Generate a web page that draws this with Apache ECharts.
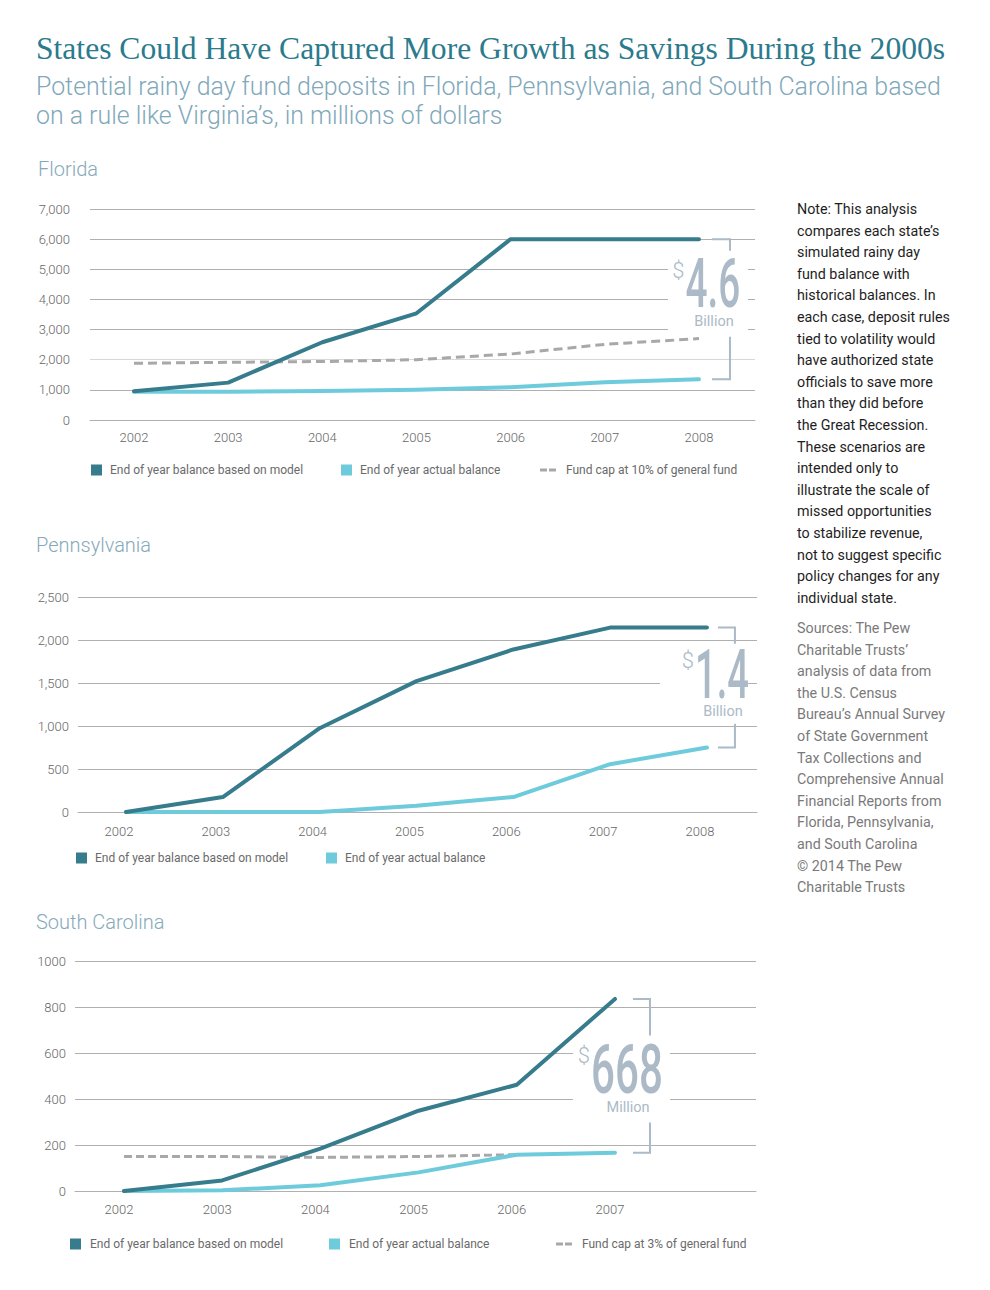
<!DOCTYPE html>
<html><head><meta charset="utf-8">
<script src="https://cdn.jsdelivr.net/npm/echarts@6/dist/echarts.min.js"></script>
<style>html,body{margin:0;padding:0;background:#fff}#c{width:990px;height:1290px}</style>
</head><body><div id="c"></div>
<script>
// ---------- data ----------
const years = [2002, 2003, 2004, 2005, 2006, 2007, 2008];
const scYears = [2002, 2003, 2004, 2005, 2006, 2007];

const flModel  = [950, 1240, 2580, 3540, 6000, 6000, 6000];
const flActual = [940, 940, 960, 1000, 1085, 1250, 1350];
const flCap    = [1880, 1915, 1940, 2000, 2190, 2510, 2700];

const paModel  = [0, 174, 974, 1522, 1890, 2144, 2144];
const paActual = [0, 0, 0, 73, 174, 556, 750];

const scModel  = [0, 46, 184, 349, 462, 835];
const scActual = [0, 3, 25, 81, 158, 166];
const scCap    = [150, 150, 146, 150, 158, null];

const flYAxis = [0, 7000, 1000];   // min, max, step
const paYAxis = [0, 2500, 500];
const scYAxis = [0, 1000, 200];

const nameModel = 'End of year balance based on model';
const nameActual = 'End of year actual balance';
const nameCap10 = 'Fund cap at 10% of general fund';
const nameCap3 = 'Fund cap at 3% of general fund';

const bigNumbers = ['4.6', '1.4', '668'];
const units = ['Billion', 'Billion', 'Million'];

const mainTitle = 'States Could Have Captured More Growth as Savings During the 2000s';
const subTitle = ['Potential rainy day fund deposits in Florida, Pennsylvania, and South Carolina based', 'on a rule like Virginia\u2019s, in millions of dollars'];
const stateNames = ['Florida', 'Pennsylvania', 'South Carolina'];
const noteLines = ['Note: This analysis', 'compares each state\u2019s', 'simulated rainy day', 'fund balance with', 'historical balances. In', 'each case, deposit rules', 'tied to volatility would', 'have authorized state', 'officials to save more', 'than they did before', 'the Great Recession.', 'These scenarios are', 'intended only to', 'illustrate the scale of', 'missed opportunities', 'to stabilize revenue,', 'not to suggest specific', 'policy changes for any', 'individual state.'];
const sourceLines = ['Sources: The Pew', 'Charitable Trusts\u2019', 'analysis of data from', 'the U.S. Census', 'Bureau\u2019s Annual Survey', 'of State Government', 'Tax Collections and', 'Comprehensive Annual', 'Financial Reports from', 'Florida, Pennsylvania,', 'and South Carolina', '\u00a9 2014 The Pew', 'Charitable Trusts'];

// ---------- styles ----------
const C_MODEL = '#367c8c', C_ACT = '#6dcbdc', C_CAP = '#a8a8aa', C_GRID = '#b0b0b0', C_GRID_L = '#d8d8d8', C_ANN = '#abbac6';
const C_AXT = '#666666';
const FONT = 'Roboto';

const mctx = document.createElement('canvas').getContext('2d');
function tw(text, font) { mctx.font = font; return mctx.measureText(text).width; }

const annCfg = [
  {bx: 31, hx: 13, tx: 14, dy: -15.5, gap: 86, boxL: 45, boxR: 18, scale: 0.57},
  {bx: 28, hx: 11, tx: 15, dy: -3.8, gap: 80, boxL: 62, boxR: 13, scale: 0.56},
  {bx: 35, hx: 18, tx: 12, dy: 3.2, gap: 87, boxL: 54, boxR: 20, scale: 0.62}
];

function makeAnnot(k) {
  const c = annCfg[k];
  return function (params, api) {
    const x = api.value(0);
    const pt = api.coord([x, api.value(1)]);
    const pb = api.coord([x, api.value(2)]);
    const bx = pt[0] + c.bx, hx = pt[0] + c.hx, tx = pt[0] + c.tx;
    const yt = pt[1], yb = pb[1];
    const gc = (yt + yb) / 2 + c.dy;
    const g0 = gc - c.gap / 2, g1 = gc + c.gap / 2;
    const numY = gc - 9;
    const half = tw(bigNumbers[k], '500 68px Roboto') * c.scale / 2;
    const capTop = numY - 0.711 * 68 / 2;
    const ts = (extra) => Object.assign({fontFamily: FONT, fill: C_ANN, align: 'center', verticalAlign: 'middle', textAlign: 'center', textVerticalAlign: 'middle'}, extra);
    return {
      type: 'group',
      children: [
        {type: 'rect', shape: {x: tx - c.boxL, y: g0, width: (bx + c.boxR) - (tx - c.boxL), height: g1 - g0}, style: {fill: '#ffffff'}},
        {type: 'polyline', shape: {points: [[hx, yt], [bx, yt], [bx, g0]]}, style: {stroke: C_ANN, lineWidth: 2, fill: 'none'}},
        {type: 'polyline', shape: {points: [[bx, g1], [bx, yb], [hx, yb]]}, style: {stroke: C_ANN, lineWidth: 2, fill: 'none'}},
        {type: 'text', x: tx, y: numY, scaleX: c.scale, style: ts({text: bigNumbers[k], fontSize: 68, fontWeight: 500})},
        {type: 'text', x: tx - half - 1, y: capTop + 9.5, style: ts({text: '$', fontSize: 22, fontWeight: 300, align: 'right', textAlign: 'right'})},
        {type: 'text', x: tx + 1, y: gc + 28, style: ts({text: units[k], fontSize: 14.5, fontWeight: 'normal'})}
      ]
    };
  };
}

function lineSeries(name, xs, ys, idx, color, z, dash) {
  return {
    type: 'line', name: name, xAxisIndex: idx, yAxisIndex: idx, z: z, silent: true,
    data: xs.map((x, i) => [x, ys[i]]),
    symbol: 'none', showSymbol: false, connectNulls: false,
    lineStyle: {color: color, width: dash ? 3 : 4, type: dash ? dash : 'solid', cap: dash ? 'butt' : 'round', join: 'round'},
    itemStyle: {color: color},
    emphasis: {disabled: true}
  };
}

function legendItem(name, left, top, dashed, pad) {
  return {
    show: true, selectedMode: false, left: left, top: top, padding: 0, itemGap: 0,
    itemWidth: dashed ? 16 : 11, itemHeight: dashed ? 3 : 11,
    itemStyle: {borderWidth: 0},
    data: [{name: name, icon: dashed ? 'path://M0,0H7V3H0Z M9,0H16V3H9Z' : 'rect'}],
    textStyle: {fontFamily: FONT, fontSize: 12, color: '#6a6a6a', padding: [0, 0, 0, pad]}
  };
}

function xAx(idx, min, max, vals, pad, margin) {
  return {
    gridIndex: idx, type: 'value', min: min, max: max,
    axisLine: {show: true, lineStyle: {color: C_GRID, width: 1}},
    axisTick: {show: false}, splitLine: {show: false},
    axisLabel: {customValues: vals, margin: margin, formatter: v => String(v), color: C_AXT, fontSize: 13, fontFamily: FONT, fontWeight: 300, padding: [0, pad, 0, 0]}
  };
}
function yAx(idx, r, margin, commas, gridColors) {
  return {
    gridIndex: idx, type: 'value', min: r[0], max: r[1], interval: r[2],
    axisLine: {show: false}, axisTick: {show: false},
    splitLine: {show: true, lineStyle: {color: gridColors || C_GRID, width: 1}},
    axisLabel: {margin: margin, color: C_AXT, fontSize: 13, fontFamily: FONT, fontWeight: 300,
      formatter: v => commas ? v.toLocaleString('en-US') : String(v)}
  };
}

const titleStyle = (size, lh, color, weight, family) => ({fontFamily: family || FONT, fontSize: size, lineHeight: lh, color: color, fontWeight: weight || 'normal'});

const option = {
  animation: false,
  backgroundColor: '#ffffff',
  title: [
    {text: mainTitle, left: 36, top: 31, padding: 0, textStyle: titleStyle(31.6, 34, '#2b7a8d', 'normal', 'Liberation Serif')},
    {text: subTitle.join('\n'), left: 36, top: 72, padding: 0, textStyle: titleStyle(24.9, 29, '#80a8ba', 300)},
    {text: stateNames[0], left: 38, top: 157, padding: 0, textStyle: titleStyle(20, 24, '#86a9ba', 300)},
    {text: stateNames[1], left: 36, top: 533, padding: 0, textStyle: titleStyle(20, 24, '#86a9ba', 300)},
    {text: stateNames[2], left: 36, top: 910, padding: 0, textStyle: titleStyle(20, 24, '#86a9ba', 300)},
    {text: noteLines.join('\n'), left: 797, top: 198.2, padding: 0, textStyle: titleStyle(14.3, 21.6, '#1e1e1e', 'normal')},
    {text: sourceLines.join('\n'), left: 797, top: 617.2, padding: 0, textStyle: titleStyle(14.3, 21.6, '#7a7a7a', 'normal')}
  ],
  legend: [
    legendItem(nameModel, 91, 464, false, 3),
    legendItem(nameActual, 341, 464, false, 3),
    legendItem(nameCap10, 540, 464, true, 5),
    legendItem(nameModel, 76, 852, false, 3),
    legendItem(nameActual, 326, 852, false, 3),
    legendItem(nameModel, 70, 1238, false, 4),
    legendItem(nameActual, 329, 1238, false, 4),
    legendItem(nameCap3, 556, 1238, true, 5)
  ],
  grid: [
    {left: 90, right: 235, top: 209, height: 211},
    {left: 78, right: 233, top: 597, height: 215},
    {left: 75, right: 234, top: 961, height: 230}
  ],
  xAxis: [
    xAx(0, 2001.533, 2008.595, years, 0, 11),
    xAx(1, 2001.504, 2008.517, years, 14, 13),
    xAx(2, 2001.501, 2008.436, scYears, 10, 12)
  ],
  yAxis: [
    yAx(0, flYAxis, 20, true, [C_GRID, C_GRID, C_GRID_L, C_GRID, C_GRID, C_GRID, C_GRID, C_GRID]),
    yAx(1, paYAxis, 9, true),
    yAx(2, scYAxis, 9, false)
  ],
  series: [
    lineSeries(nameCap10, years, flCap, 0, C_CAP, 2, [9, 5]),
    lineSeries(nameActual, years, flActual, 0, C_ACT, 3),
    lineSeries(nameModel, years, flModel, 0, C_MODEL, 4),
    {type: 'custom', xAxisIndex: 0, yAxisIndex: 0, z: 1, silent: true, encode: {x: 0, y: [1, 2]},
      data: [[years[years.length - 1], flModel[flModel.length - 1], flActual[flActual.length - 1]]], renderItem: makeAnnot(0)},

    lineSeries(nameActual, years, paActual, 1, C_ACT, 3),
    lineSeries(nameModel, years, paModel, 1, C_MODEL, 4),
    {type: 'custom', xAxisIndex: 1, yAxisIndex: 1, z: 1, silent: true, encode: {x: 0, y: [1, 2]},
      data: [[years[years.length - 1], paModel[paModel.length - 1], paActual[paActual.length - 1]]], renderItem: makeAnnot(1)},

    lineSeries(nameCap3, scYears, scCap, 2, C_CAP, 2, [8, 4]),
    lineSeries(nameActual, scYears, scActual, 2, C_ACT, 3),
    lineSeries(nameModel, scYears, scModel, 2, C_MODEL, 4),
    {type: 'custom', xAxisIndex: 2, yAxisIndex: 2, z: 1, silent: true, encode: {x: 0, y: [1, 2]},
      data: [[scYears[scYears.length - 1], scModel[scModel.length - 1], scActual[scActual.length - 1]]], renderItem: makeAnnot(2)}
  ]
};

const chart = echarts.init(document.getElementById('c'), null, {renderer: 'svg', width: 990, height: 1290});
chart.setOption(option);
</script>
</body></html>
